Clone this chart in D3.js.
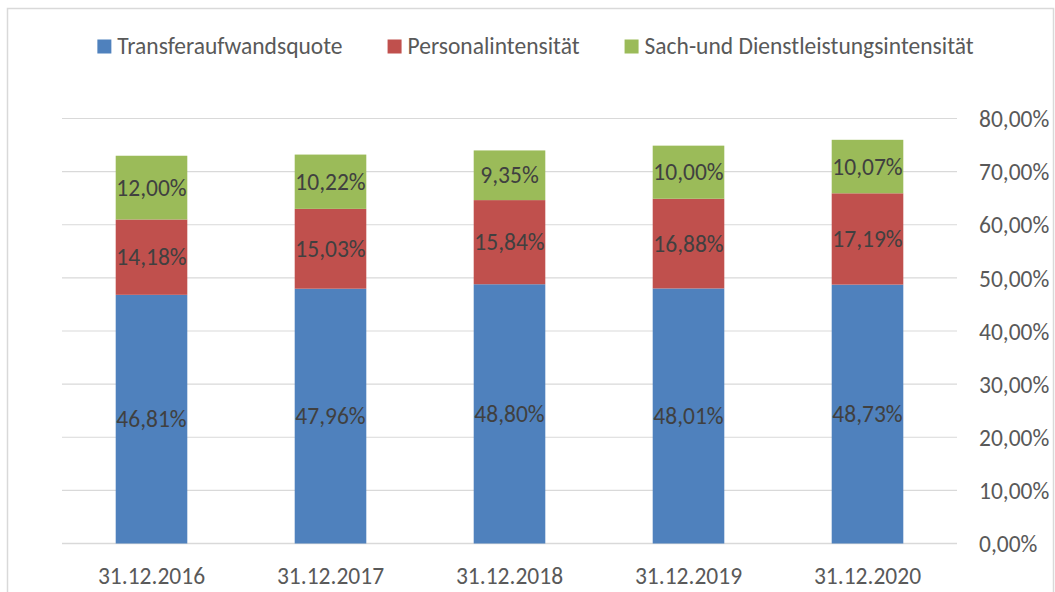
<!DOCTYPE html>
<html>
<head>
<meta charset="utf-8">
<script src="https://cdn.jsdelivr.net/npm/d3@7"></script>
<style>
  body { margin: 0; background: #fff; }
  svg text { font-family: Carlito, Calibri, Lato, sans-serif; }
</style>
</head>
<body>
<div id="chart"></div>
<script>
// Data
const dates = ["31.12.2016", "31.12.2017", "31.12.2018", "31.12.2019", "31.12.2020"];
const seriesNames = ["Transferaufwandsquote", "Personalintensität", "Sach-und Dienstleistungsintensität"];
const transfer = [46.81, 47.96, 48.80, 48.01, 48.73];
const personal = [14.18, 15.03, 15.84, 16.88, 17.19];
const sach = [12.00, 10.22, 9.35, 10.00, 10.07];
const colors = ["#4f81bd", "#c0504d", "#9bbb59"];
const yTicks = [0, 10, 20, 30, 40, 50, 60, 70, 80];

const width = 1055;
const height = 592;
const fontFam = "Carlito, Calibri, Lato, sans-serif";
const fmt = v => v.toFixed(2).replace(".", ",") + "%";

const svg = d3.select("#chart")
  .append("svg")
  .attr("width", width)
  .attr("height", height);

// chart border
svg.append("rect")
  .attr("x", 7.5)
  .attr("y", 8.5)
  .attr("width", 1046)
  .attr("height", 600)
  .attr("fill", "white")
  .attr("stroke", "#d9d9d9")
  .attr("stroke-width", 1.5);

const x = d3.scaleBand()
  .domain(dates)
  .range([62, 957])
  .paddingInner(0.6)
  .paddingOuter(0.3);

const y = d3.scaleLinear()
  .domain([0, 80])
  .range([543.5, 118.5]);

// gridlines
svg.append("g")
  .selectAll("line")
  .data(yTicks)
  .join("line")
  .attr("x1", 62)
  .attr("x2", 957)
  .attr("y1", d => y(d))
  .attr("y2", d => y(d))
  .attr("stroke", "#d9d9d9")
  .attr("stroke-width", d => d === 0 ? 1.5 : 1.2);

// right axis labels
const yAxis = svg.append("g")
  .attr("transform", "translate(979,0)")
  .call(d3.axisRight(y).tickValues(yTicks).tickSize(0).tickFormat(d => fmt(d)));
yAxis.select(".domain").remove();
yAxis.selectAll("text")
  .attr("x", 0)
  .attr("dy", "0.35em")
  .style("font-size", "23.5px")
  .style("font-family", fontFam)
  .attr("fill", "#595959");

// bottom axis labels
const xAxis = svg.append("g")
  .attr("transform", "translate(0,543.5)")
  .call(d3.axisBottom(x).tickSize(0));
xAxis.select(".domain").remove();
xAxis.selectAll("text")
  .attr("y", 40)
  .attr("dy", 0)
  .style("font-size", "23.5px")
  .style("font-family", fontFam)
  .attr("fill", "#595959");

// stacked data
const rows = dates.map((d, i) => ({ date: d, s0: transfer[i], s1: personal[i], s2: sach[i] }));
const stack = d3.stack().keys(["s0", "s1", "s2"]);
const layers = stack(rows);

const layerG = svg.append("g")
  .selectAll("g")
  .data(layers)
  .join("g")
  .attr("fill", (d, i) => colors[i]);

layerG.selectAll("rect")
  .data(d => d)
  .join("rect")
  .attr("x", d => x(d.data.date))
  .attr("y", d => y(d[1]))
  .attr("width", x.bandwidth())
  .attr("height", d => y(d[0]) - y(d[1]));

// data labels
layerG.selectAll("text")
  .data(d => d)
  .join("text")
  .attr("x", d => x(d.data.date) + x.bandwidth() / 2)
  .attr("y", d => (y(d[0]) + y(d[1])) / 2)
  .attr("dy", "0.35em")
  .attr("text-anchor", "middle")
  .style("font-size", "23.5px")
  .attr("fill", "#404040")
  .text(d => fmt(d[1] - d[0]));

// legend
const legend = svg.append("g").attr("transform", "translate(0,46)");
const items = legend.selectAll("g")
  .data(seriesNames)
  .join("g");
items.append("rect")
  .attr("y", -6.5)
  .attr("width", 14)
  .attr("height", 14)
  .attr("fill", (d, i) => colors[i]);
items.append("text")
  .attr("x", 20)
  .attr("dy", "0.35em")
  .style("font-size", "23.5px")
  .attr("fill", "#595959")
  .text(d => d);

// position legend items one after another, centered
const gap = 45;
let widths = [];
items.each(function () {
  widths.push(20 + d3.select(this).select("text").node().getComputedTextLength());
});
const total = d3.sum(widths) + gap * (widths.length - 1);
let cx = 535.5 - total / 2;
items.attr("transform", (d, i) => {
  const t = `translate(${cx},0)`;
  cx += widths[i] + gap;
  return t;
});
</script>
</body>
</html>
